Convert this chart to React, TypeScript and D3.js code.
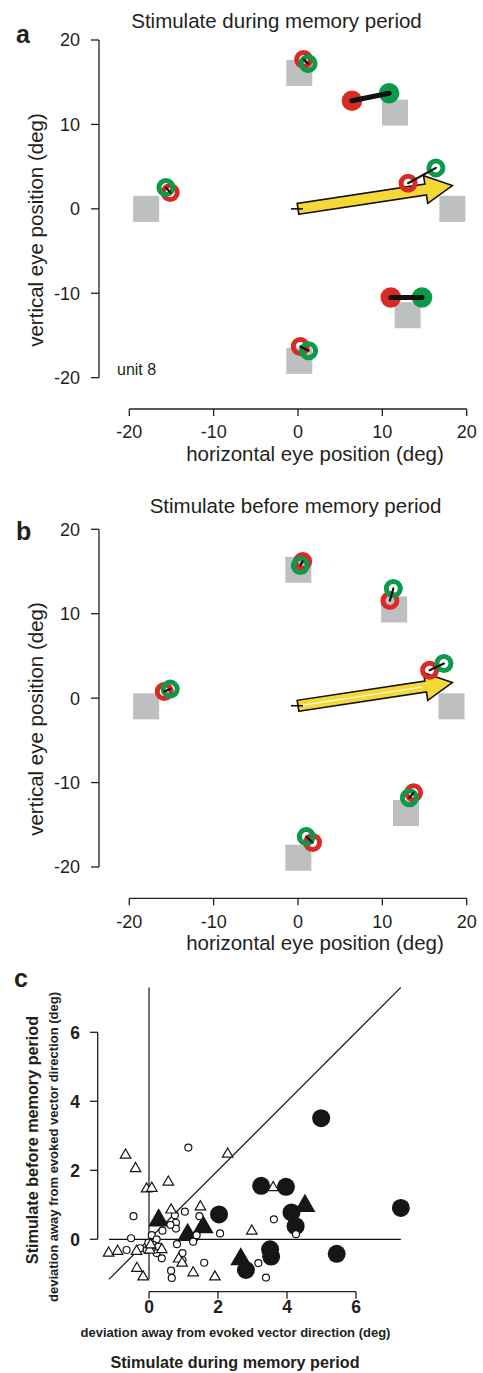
import React from 'react';
import * as d3 from 'd3';

const W = 483;
const H = 1373;
const FONT = '"Liberation Sans", Arial, Helvetica, sans-serif';
const INK = '#231f20';
const RED = '#da2a26';
const GREEN = '#0b9a4a';
const GRAY = '#bebfc1';
const YELLOW = '#f6d834';

// ---------- panels a / b : eye positions ----------
const posTicks = [-20, -10, 0, 10, 20];

const targetsA = [[-18, 0], [0.15, 16.1], [11.5, 11.4], [18.3, 0], [0.15, -18], [13, -12.6]];
const redA = [[-15.15, 1.93], [0.67, 17.7], [6.4, 12.8], [13.05, 3.04], [0.27, -16.3], [11.0, -10.5]];
const greenA = [[-15.66, 2.52], [1.19, 17.2], [10.8, 13.7], [16.35, 4.85], [1.26, -16.8], [14.7, -10.5]];
const filledA = [false, false, true, false, false, true];
const arrowA = [[0, 0], [18.3, 2.76]];

const targetsB = [[-18, -0.97], [0.04, 15.2], [11.4, 10.5], [18.2, -0.97], [0.04, -18.9], [12.8, -13.6]];
const redB = [[-15.86, 0.78], [0.55, 16.2], [10.9, 11.56], [15.6, 3.3], [1.73, -17.1], [13.7, -11.2]];
const greenB = [[-15.15, 1.07], [0.27, 15.7], [11.3, 12.99], [17.3, 4.1], [0.98, -16.4], [13.2, -11.8]];
const filledB = [false, false, false, false, false, false];
const arrowB = [[0, -0.9], [18.3, 1.85]];

// ---------- panel c : deviations ----------
const cTicks = [0, 2, 4, 6];
const openCircles = [
  [-0.45, 0.67], [-0.52, 0.03], [-0.65, -0.31], [-0.26, -0.26], [-0.07, -0.31], [0.08, 0.12],
  [0.22, 0.0], [-0.02, -0.1], [0.12, -0.16], [0.27, -0.21], [0.22, -0.4], [0.37, -0.55],
  [0.39, 0.25], [0.75, 0.7], [0.78, 0.48], [0.78, 0.31], [0.62, 0.42], [0.81, -0.14],
  [0.97, -0.4], [0.97, -0.6], [0.64, -0.91], [0.66, -1.12], [1.04, 0.8], [1.46, 0.67],
  [1.38, 0.12], [1.28, -0.07], [1.6, -0.68], [2.06, 0.17], [3.17, -0.69], [3.39, -1.11],
  [3.62, 0.58], [4.26, 0.15], [1.14, 2.66],
];
const openTriangles = [
  [-0.68, 2.44], [-0.39, 2.05], [-0.07, 1.46], [0.08, 1.48], [0.56, 1.66], [2.28, 2.47],
  [3.6, 1.5], [0.64, 0.85], [1.49, 0.94], [2.98, 0.24], [-1.17, -0.4], [-0.91, -0.35],
  [-0.36, -0.35], [0.02, -0.31], [0.37, -0.3], [0.86, -0.57], [0.96, -0.69], [-0.35, -0.84],
  [-0.17, -1.09], [1.28, -0.97], [1.91, -1.09], [0.05, -0.16],
];
const filledCircles = [
  [2.03, 0.72], [3.25, 1.55], [3.97, 1.52], [4.99, 3.51], [4.13, 0.78], [4.25, 0.38],
  [7.3, 0.91], [5.44, -0.42], [3.51, -0.29], [3.54, -0.5], [2.81, -0.89],
];
const filledTriangles = [[0.28, 0.55], [1.12, 0.13], [1.57, 0.35], [2.66, -0.58], [4.52, 0.97]];
const refLineRange = [-1.16, 7.3];

function arrowPoints(x0: number, y0: number, x1: number, y1: number, w: number, hw: number, hl: number) {
  const dx = x1 - x0, dy = y1 - y0, L = Math.hypot(dx, dy);
  const ux = dx / L, uy = dy / L, nx = -uy, ny = ux;
  const bx = x1 - ux * hl, by = y1 - uy * hl;
  return [
    [x0 + nx * w, y0 + ny * w], [bx + nx * w, by + ny * w], [bx + nx * hw, by + ny * hw],
    [x1, y1], [bx - nx * hw, by - ny * hw], [bx - nx * w, by - ny * w], [x0 - nx * w, y0 - ny * w],
  ];
}

type PanelProps = {
  yTop: number; yBottom: number; xAxisY: number; tickLabelY: number; xLabelY: number;
  yLabelY: number; title: string; titleX: number; titleY: number; letter: string; letterY: number;
  targets: number[][]; red: number[][]; green: number[][]; filled: boolean[]; arrow: number[][];
  stripe: boolean; unit?: string;
};

function EyePanel(p: PanelProps) {
  const x = d3.scaleLinear().domain([-20, 20]).range([129.3, 466.7]);
  const y = d3.scaleLinear().domain([-20, 20]).range([p.yBottom, p.yTop]);
  const sq = 26;
  const [a0, a1] = p.arrow;
  const ax0 = x(a0[0]), ay0 = y(a0[1]), ax1 = x(a1[0]), ay1 = y(a1[1]);
  const pts = arrowPoints(ax0, ay0, ax1, ay1, 5.5, 14, 27);
  const L = Math.hypot(ax1 - ax0, ay1 - ay0);
  const ux = (ax1 - ax0) / L, uy = (ay1 - ay0) / L;
  return (
    <g>
      <text x={p.titleX} y={p.titleY} textAnchor="middle" fontSize={20.5} fill={INK}>{p.title}</text>
      <text x={16} y={p.letterY} fontSize={25} fontWeight="bold" fill={INK}>{p.letter}</text>
      {/* y axis */}
      <line x1={99} x2={99} y1={y(20)} y2={y(-20)} stroke={INK} strokeWidth={1.3} />
      {posTicks.map(t => (
        <g key={'yt' + t}>
          <line x1={91} x2={99} y1={y(t)} y2={y(t)} stroke={INK} strokeWidth={1.3} />
          <text x={80} y={y(t)} dy="0.36em" textAnchor="end" fontSize={18} fill={INK}>{t}</text>
        </g>
      ))}
      {/* x axis */}
      <line x1={x(-20)} x2={x(20)} y1={p.xAxisY} y2={p.xAxisY} stroke={INK} strokeWidth={1.3} />
      {posTicks.map(t => (
        <g key={'xt' + t}>
          <line x1={x(t)} x2={x(t)} y1={p.xAxisY} y2={p.xAxisY + 7} stroke={INK} strokeWidth={1.3} />
          <text x={x(t)} y={p.tickLabelY} textAnchor="middle" fontSize={18} fill={INK}>{t}</text>
        </g>
      ))}
      <text x={315} y={p.xLabelY} textAnchor="middle" fontSize={20.5} fill={INK}>horizontal eye position (deg)</text>
      <text transform={`translate(43,${p.yLabelY}) rotate(-90)`} textAnchor="middle" fontSize={20.5} fill={INK}>vertical eye position (deg)</text>
      {p.unit && <text x={117} y={375} fontSize={16} fill={INK}>{p.unit}</text>}
      {/* targets */}
      {p.targets.map((t, i) => (
        <rect key={'sq' + i} x={x(t[0]) - sq / 2} y={y(t[1]) - sq / 2} width={sq} height={sq} fill={GRAY} />
      ))}
      {/* arrow */}
      <polygon points={pts.map(q => q.join(',')).join(' ')} fill={YELLOW} stroke="#111" strokeWidth={1.6} strokeLinejoin="miter" />
      {p.stripe && (
        <line x1={ax0 + ux * 3} y1={ay0 + uy * 3} x2={ax1 - ux * 30} y2={ay1 - uy * 30} stroke="#fff" strokeWidth={1.2} />
      )}
      <line x1={ax0 - 7} x2={ax0 + 5} y1={ay0} y2={ay0} stroke="#111" strokeWidth={1.6} />
      {/* eye positions */}
      {p.red.map((r, i) => {
        const g = p.green[i];
        const f = p.filled[i];
        return (
          <g key={'pair' + i}>
            {f ? (
              <>
                <circle cx={x(r[0])} cy={y(r[1])} r={10.3} fill={RED} />
                <circle cx={x(g[0])} cy={y(g[1])} r={10.3} fill={GREEN} />
              </>
            ) : (
              <>
                <circle cx={x(r[0])} cy={y(r[1])} r={7} fill="none" stroke={RED} strokeWidth={5} />
                <circle cx={x(g[0])} cy={y(g[1])} r={7} fill="none" stroke={GREEN} strokeWidth={5} />
              </>
            )}
            <line x1={x(r[0])} y1={y(r[1])} x2={x(g[0])} y2={y(g[1])} stroke="#111" strokeWidth={f ? 5 : 2.2} strokeLinecap="round" />
          </g>
        );
      })}
    </g>
  );
}

function PanelC() {
  const x = d3.scaleLinear().domain([0, 6]).range([149, 356]);
  const y = d3.scaleLinear().domain([0, 6]).range([1239.3, 1032.3]);
  const xAxisY = 1291.7;
  const triSmall = d3.symbol().type(d3.symbolTriangle).size(48)();
  const triBig = d3.symbol().type(d3.symbolTriangle).size(191)();
  const [lo, hi] = refLineRange;
  return (
    <g fontFamily={FONT} fontWeight="bold" fill={INK}>
      <text x={14} y={987} fontSize={25}>c</text>
      {/* reference lines */}
      <line x1={x(0)} x2={x(0)} y1={y(hi)} y2={y(lo)} stroke="#111" strokeWidth={1.2} />
      <line x1={x(lo)} x2={x(hi)} y1={y(0)} y2={y(0)} stroke="#111" strokeWidth={1.2} />
      <line x1={x(lo)} x2={x(hi)} y1={y(lo)} y2={y(hi)} stroke="#111" strokeWidth={1.2} />
      {/* axes */}
      <line x1={97.7} x2={97.7} y1={y(6)} y2={y(0)} stroke={INK} strokeWidth={1.3} />
      {cTicks.map(t => (
        <g key={'cy' + t}>
          <line x1={90} x2={97.7} y1={y(t)} y2={y(t)} stroke={INK} strokeWidth={1.3} />
          <text x={80} y={y(t)} dy="0.36em" textAnchor="end" fontSize={17.5}>{t}</text>
        </g>
      ))}
      <line x1={x(0)} x2={x(6)} y1={xAxisY} y2={xAxisY} stroke={INK} strokeWidth={1.3} />
      {cTicks.map(t => (
        <g key={'cx' + t}>
          <line x1={x(t)} x2={x(t)} y1={xAxisY} y2={xAxisY + 7} stroke={INK} strokeWidth={1.3} />
          <text x={x(t)} y={1313.3} textAnchor="middle" fontSize={17.5}>{t}</text>
        </g>
      ))}
      <text x={235.5} y={1337} textAnchor="middle" fontSize={13}>deviation away from evoked vector direction (deg)</text>
      <text x={235} y={1367.5} textAnchor="middle" fontSize={16.2}>Stimulate during memory period</text>
      <text transform="translate(38,1140) rotate(-90)" textAnchor="middle" fontSize={16.2}>Stimulate before memory period</text>
      <text transform="translate(57.5,1147) rotate(-90)" textAnchor="middle" fontSize={13}>deviation away from evoked vector direction (deg)</text>
      {/* marks */}
      {filledCircles.map((d, i) => (
        <circle key={'fc' + i} cx={x(d[0])} cy={y(d[1])} r={9} fill="#161616" />
      ))}
      {filledTriangles.map((d, i) => (
        <path key={'ft' + i} d={triBig as string} transform={`translate(${x(d[0])},${y(d[1])})`} fill="#161616" />
      ))}
      {openCircles.map((d, i) => (
        <circle key={'oc' + i} cx={x(d[0])} cy={y(d[1])} r={3.5} fill="#fff" stroke="#161616" strokeWidth={1.2} />
      ))}
      {openTriangles.map((d, i) => (
        <path key={'ot' + i} d={triSmall as string} transform={`translate(${x(d[0])},${y(d[1])})`} fill="#fff" stroke="#161616" strokeWidth={1.2} />
      ))}
    </g>
  );
}

export default function App() {
  return (
    <svg width={W} height={H} viewBox={`0 0 ${W} ${H}`} style={{ position: 'absolute', left: 0, top: 0, background: '#fff' }} fontFamily={FONT}>
      <rect x={0} y={0} width={W} height={H} fill="#fff" />
      <EyePanel yTop={40} yBottom={377.7} xAxisY={409} tickLabelY={438.3} xLabelY={461} yLabelY={230}
        title="Stimulate during memory period" titleX={276.5} titleY={28} letter="a" letterY={43}
        targets={targetsA} red={redA} green={greenA} filled={filledA} arrow={arrowA} stripe={false} unit="unit 8" />
      <EyePanel yTop={529.3} yBottom={867} xAxisY={898.3} tickLabelY={928.3} xLabelY={950} yLabelY={719}
        title="Stimulate before memory period" titleX={295.5} titleY={513} letter="b" letterY={540}
        targets={targetsB} red={redB} green={greenB} filled={filledB} arrow={arrowB} stripe={true} />
      <PanelC />
    </svg>
  );
}
